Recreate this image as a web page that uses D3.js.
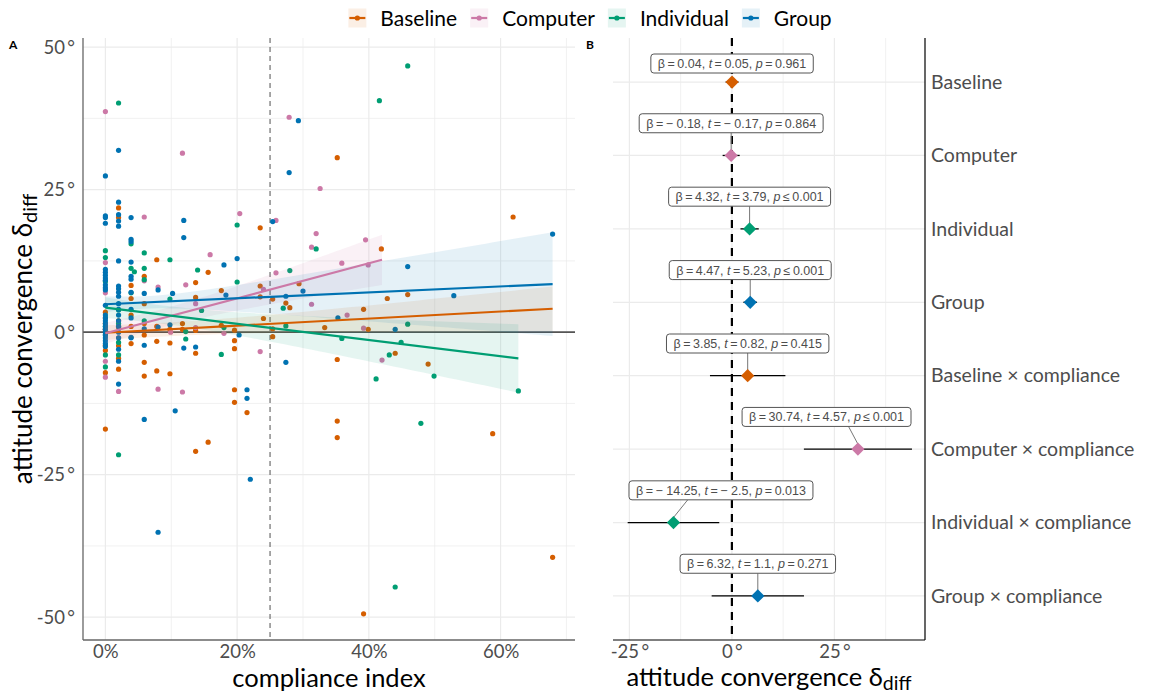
<!DOCTYPE html>
<html>
<head>
<meta charset="utf-8">
<script src="https://cdn.jsdelivr.net/npm/d3@7"></script>
<style>
  body { margin: 0; background: #fff; }
  svg { display: block; }
</style>
</head>
<body>
<svg id="chart" width="1152" height="693"></svg>
<script>
// ---- conditions ----
const conditions = ["Baseline", "Computer", "Individual", "Group"];
const conditionColors = ["#D55E00", "#CC79A7", "#009E73", "#0072B2"];

// ---- panel A: participants, [compliance index in %, attitude convergence in degrees] ----
const baselinePoints = [
  [0, -17.0], [0, -2.3], [0, -3.2], [0, -7.1], [0, 1.5], [0, 2.5], [0, 0.5], [0, 3.5],
  [2, 21.8], [2, 20.1], [2, -6.5], [2, -2.4], [2, 0.8], [2, 2.0], [2, -4.6],
  [3.9, 8.2], [3.9, 5.9], [3.9, -2.0], [3.9, 1.0], [3.9, 3.0],
  [5.9, 9.8], [5.9, 5.0], [5.9, -5.3], [5.9, -7.7], [5.9, 1.5], [5.9, -0.5],
  [7.8, 12.7], [7.8, -6.8], [7.8, -1.6], [7.8, 1.0],
  [9.8, -7.3], [9.8, -1.9], [9.8, 0.5],
  [11.7, 1.5], [11.7, 0.5],
  [13.7, 8.7], [13.7, 6.1], [13.7, -3.7], [13.7, -20.9], [13.7, 0.3],
  [15.6, 10.5], [15.6, -19.3], [17.6, 7.3], [17.6, 1.2],
  [19.6, 0.35], [19.6, -1.5], [19.6, -2.9], [19.6, -10.1], [19.6, -12.3], [21.5, -14.1],
  [23.5, 18.3], [23.5, 8.1], [23.5, 6.2], [24.0, 2.4],
  [25.4, 5.8], [25.4, -0.8], [25.4, 0.6], [27.4, 5.1], [28.0, 4.3], [29.4, 8.5],
  [33.3, 0.8], [35.2, 30.6], [35.2, -4.8], [35.2, -15.6], [35.2, -18.5],
  [39.2, 4.0], [39.2, -49.4], [39.9, 0.5], [41.9, 14.6], [42.8, 5.9], [44.0, -3.7],
  [45.9, 6.6], [49.0, -5.6], [58.8, -17.8], [61.9, 20.2], [67.9, -39.5]
];
const computerPoints = [
  [0, 38.7], [0, 12.2], [0, 6.9], [0, -5.1], [0, -7.9], [0, 0.5],
  [2, -10.4], [2, 1.0], [2, -1.0],
  [5.9, 20.2], [5.9, 9.0], [8.0, 7.9], [8.0, -10.0], [9.9, 0.0],
  [11.7, 31.4], [11.7, -10.5], [12.2, 8.3], [13.7, 5.0], [13.7, 0.8],
  [15.9, 13.6], [18.0, -0.2], [20.4, 20.8], [23.5, -3.4], [24.0, 7.5],
  [25.9, 19.6], [25.9, 10.4], [27.9, 37.7], [31.3, 4.9], [31.3, 14.9],
  [32.0, 17.3], [32.6, 25.2], [35.9, 12.1], [36.7, 3.0], [39.2, 0.7],
  [39.5, 16.2], [39.9, 11.8], [42.0, -4.9]
];
const individualPoints = [
  [0, 14.3], [0, 13.1], [0, 8.9], [0, -4.0], [0, -6.1], [0, 1.0], [0, -0.5],
  [2, 40.2], [2, 3.9], [2, -1.8], [2, -4.0], [2, -21.5], [2, 1.5],
  [3.9, 15.5], [3.9, 11.2], [3.9, 6.9], [4.4, 10.6],
  [5.9, 13.9], [5.9, 11.2], [5.9, 9.2], [5.9, 2.0],
  [9.8, 12.7], [9.8, 5.8], [12.2, -1.2], [12.2, 0.1], [14.0, 10.9], [14.6, 3.8],
  [17.6, -3.9], [18.0, 0.8], [20.0, 18.8], [20.0, 8.8],
  [27.0, 4.2], [27.4, 1.1], [28.0, 10.8], [32.0, 14.6], [35.9, -1.1],
  [41.1, -8.2], [41.6, 40.6], [43.1, -4.0], [44.0, -44.7], [44.9, -1.8],
  [45.9, 46.7], [45.9, 1.4], [47.9, -16.0], [49.9, -7.7], [62.7, -10.3]
];
const groupPoints = [
  [0, 27.4], [0, 20.4], [0, 20.1], [0, 19.1], [0, 11.0], [0, 10.5], [0, 10.0], [0, 9.5],
  [0, 9.1], [0, 8.3], [0, 7.8], [0, 7.4], [0, 4.7], [0, 3.0], [0, 2.5], [0, 2.0],
  [0, 1.5], [0, 1.0], [0, 0.5], [0, 0.0], [0, -0.5], [0, -1.0], [0, -1.5], [0, -2.0], [0, -2.5],
  [2, 31.9], [2, 22.8], [2, 20.6], [2, 19.5], [2, 18.6], [2, 12.5], [2, 8.1], [2, 7.6],
  [2, 7.0], [2, 6.3], [2, 5.0], [2, 4.0], [2, 3.0], [2, 2.0], [2, 1.0], [2, 0.0],
  [2, -1.0], [2, -3.0], [2, -5.1], [2, -9.1],
  [3.9, 20.1], [3.9, 16.3], [3.9, 15.9], [3.9, 12.3], [3.9, 9.8], [3.9, 9.3],
  [3.9, 7.0], [3.9, 4.0], [3.9, 2.5], [3.9, -0.9], [3.9, -1.0],
  [5.9, 6.8], [5.9, 0.6], [5.9, -2.3], [5.9, -15.3],
  [8.0, 7.4], [8.0, 0.9], [8.0, -35.1], [9.8, 1.3], [10.2, 6.8], [10.6, -13.8],
  [11.9, 19.6], [11.9, 16.6], [11.9, -2.8], [13.7, -2.6],
  [18.0, 11.8], [18.3, 6.5], [20.0, 12.9], [20.3, -0.5], [21.5, -10.1], [21.5, -11.6],
  [22.0, -25.8], [25.4, 19.4], [27.4, 6.3], [27.4, -5.3], [27.9, 28.0], [29.3, 37.1],
  [30.0, 7.2], [35.3, 2.5], [44.0, 0.5], [45.9, 11.5], [52.9, 6.4], [67.9, 17.2]
];
const pointSets = [baselinePoints, computerPoints, individualPoints, groupPoints];

// per-condition linear fits (slope per 100 % compliance) and their confidence bands
const fitIntercept = [-0.1, -0.2, 4.3, 4.9];
const fitSlope = [6.2, 30.7, -14.2, 5.2];
const fitMaxX = [67.9, 42.0, 62.7, 67.9];
const bandMeanX = [8, 8, 8, 6];
const bandHalfMin = [1.2, 1.6, 1.6, 1.1];
const bandHalfEnd = [3.9, 4.4, 6.0, 9.1];

const xTicksA = [0, 20, 40, 60];
const xMinorA = [10, 30, 50, 70];
const yTicksA = [-50, -25, 0, 25, 50];
const yMinorA = [-37.5, -12.5, 12.5, 37.5];
const complianceCutoff = 25;

// ---- panel B: model coefficients ----
const terms = ["Baseline", "Computer", "Individual", "Group",
  "Baseline × compliance", "Computer × compliance",
  "Individual × compliance", "Group × compliance"];
const termCondition = [0, 1, 2, 3, 0, 1, 2, 3];
const beta = [0.04, -0.18, 4.32, 4.47, 3.85, 30.74, -14.25, 6.32];
const tStat = [0.05, -0.17, 3.79, 5.23, 0.82, 4.57, -2.5, 1.1];
const pValue = [0.961, 0.864, 0.001, 0.001, 0.415, 0.001, 0.013, 0.271];
const ciLow = [-1.53, -2.26, 2.09, 2.80, -5.35, 17.56, -25.42, -4.94];
const ciHigh = [1.61, 1.90, 6.55, 6.14, 13.05, 43.92, -3.08, 17.58];
const xTicksB = [-25, 0, 25];
const xMinorB = [-12.5, 12.5, 37.5];

// ---- layout ----
const FONT = "Lato, 'Open Sans', sans-serif";
const LABEL_FONT = "'Liberation Sans', Arial, sans-serif";
const svg = d3.select("#chart");
const A = { left: 83, right: 575, top: 38, bottom: 640 };
const B = { left: 613, right: 925, top: 38, bottom: 640 };

const xA = d3.scaleLinear().domain([-3.4, 71.3]).range([A.left, A.right]);
const yA = d3.scaleLinear().domain([-54.0, 51.6]).range([A.bottom, A.top]);
const xB = d3.scaleLinear().domain([-29.0, 47.1]).range([B.left, B.right]);
const yB = d3.scalePoint().domain(terms).range([B.top, B.bottom]).padding(0.6);

const grid = "#ebebeb";

// ================= Panel A =================
const gA = svg.append("g");

// grid
gA.selectAll(".gxm").data(xMinorA).join("line")
  .attr("x1", d => xA(d)).attr("x2", d => xA(d)).attr("y1", A.top).attr("y2", A.bottom)
  .attr("stroke", grid).attr("stroke-width", 0.7);
gA.selectAll(".gym").data(yMinorA).join("line")
  .attr("x1", A.left).attr("x2", A.right).attr("y1", d => yA(d)).attr("y2", d => yA(d))
  .attr("stroke", grid).attr("stroke-width", 0.7);
gA.selectAll(".gx").data(xTicksA).join("line")
  .attr("x1", d => xA(d)).attr("x2", d => xA(d)).attr("y1", A.top).attr("y2", A.bottom)
  .attr("stroke", grid).attr("stroke-width", 1.2);
gA.selectAll(".gy").data(yTicksA).join("line")
  .attr("x1", A.left).attr("x2", A.right).attr("y1", d => yA(d)).attr("y2", d => yA(d))
  .attr("stroke", grid).attr("stroke-width", 1.2);

// zero reference and compliance cutoff
gA.append("line").attr("x1", A.left).attr("x2", A.right)
  .attr("y1", yA(0)).attr("y2", yA(0)).attr("stroke", "#555").attr("stroke-width", 1.8);
gA.append("line").attr("x1", xA(complianceCutoff)).attr("x2", xA(complianceCutoff))
  .attr("y1", A.top).attr("y2", A.bottom)
  .attr("stroke", "#7a7a7a").attr("stroke-width", 1.3).attr("stroke-dasharray", "5,4");

// points
pointSets.forEach((pts, i) => {
  gA.append("g").selectAll("circle").data(pts).join("circle")
    .attr("cx", d => xA(d[0])).attr("cy", d => yA(d[1])).attr("r", 2.6)
    .attr("fill", conditionColors[i]);
});

// confidence bands and fit lines
const fitAt = (i, x) => fitIntercept[i] + fitSlope[i] * x / 100;
const halfWidth = (i, x) => {
  const k = Math.sqrt(bandHalfEnd[i] ** 2 - bandHalfMin[i] ** 2) / (fitMaxX[i] - bandMeanX[i]);
  return Math.sqrt(bandHalfMin[i] ** 2 + (k * (x - bandMeanX[i])) ** 2);
};
conditions.forEach((c, i) => {
  const xs = d3.range(0, 61).map(j => fitMaxX[i] * j / 60);
  gA.append("path").datum(xs)
    .attr("d", d3.area().x(x => xA(x))
      .y0(x => yA(fitAt(i, x) - halfWidth(i, x)))
      .y1(x => yA(fitAt(i, x) + halfWidth(i, x))))
    .attr("fill", conditionColors[i]).attr("fill-opacity", 0.1);
});
conditions.forEach((c, i) => {
  gA.append("line")
    .attr("x1", xA(0)).attr("y1", yA(fitAt(i, 0)))
    .attr("x2", xA(fitMaxX[i])).attr("y2", yA(fitAt(i, fitMaxX[i])))
    .attr("stroke", conditionColors[i]).attr("stroke-width", 2.2);
});

// axes
const axA_x = gA.append("g").attr("transform", `translate(0,${A.bottom})`)
  .call(d3.axisBottom(xA).tickValues(xTicksA).tickSize(0).tickPadding(5).tickFormat(d => d + "%"));
const axA_y = gA.append("g").attr("transform", `translate(${A.left},0)`)
  .call(d3.axisLeft(yA).tickValues(yTicksA).tickSize(0).tickPadding(8).tickFormat(d => String(d) + "\u2009°"));
[axA_x, axA_y].forEach(ax => {
  ax.select(".domain").remove();
  ax.selectAll("text").attr("font-family", FONT).attr("font-size", 18.5).attr("fill", "#4d4d4d");
});
gA.append("line").attr("x1", A.left).attr("x2", A.left).attr("y1", A.top).attr("y2", A.bottom)
  .attr("stroke", "#666").attr("stroke-width", 1.3);
gA.append("line").attr("x1", A.left).attr("x2", A.right).attr("y1", A.bottom).attr("y2", A.bottom)
  .attr("stroke", "#666").attr("stroke-width", 1.3);

// titles
gA.append("text").attr("x", (A.left + A.right) / 2).attr("y", 687)
  .attr("text-anchor", "middle").attr("font-family", FONT).attr("font-size", 25.5)
  .attr("fill", "#000").text("compliance index");
const yTitle = gA.append("text")
  .attr("transform", `translate(32,${(A.top + A.bottom) / 2}) rotate(-90)`)
  .attr("text-anchor", "middle").attr("font-family", FONT).attr("font-size", 26).attr("fill", "#000");
yTitle.append("tspan").text("attitude convergence δ");
yTitle.append("tspan").attr("dy", 5).attr("font-size", 20).text("diff");

svg.append("text").attr("x", 9).attr("y", 49).attr("font-family", FONT)
  .attr("font-weight", "bold").attr("font-size", 12).text("A");

// ================= Panel B =================
const gB = svg.append("g");
gB.selectAll(".gbxm").data(xMinorB).join("line")
  .attr("x1", d => xB(d)).attr("x2", d => xB(d)).attr("y1", B.top).attr("y2", B.bottom)
  .attr("stroke", grid).attr("stroke-width", 0.7);
gB.selectAll(".gbx").data(xTicksB).join("line")
  .attr("x1", d => xB(d)).attr("x2", d => xB(d)).attr("y1", B.top).attr("y2", B.bottom)
  .attr("stroke", grid).attr("stroke-width", 1.2);
gB.selectAll(".gby").data(terms).join("line")
  .attr("x1", B.left).attr("x2", B.right).attr("y1", d => yB(d)).attr("y2", d => yB(d))
  .attr("stroke", grid).attr("stroke-width", 1.2);

// null effect
gB.append("line").attr("x1", xB(0)).attr("x2", xB(0)).attr("y1", B.top).attr("y2", B.bottom)
  .attr("stroke", "#000").attr("stroke-width", 2.2).attr("stroke-dasharray", "8,6");

// confidence intervals
gB.selectAll(".ci").data(terms).join("line")
  .attr("x1", (d, i) => xB(ciLow[i])).attr("x2", (d, i) => xB(ciHigh[i]))
  .attr("y1", d => yB(d)).attr("y2", d => yB(d))
  .attr("stroke", "#000").attr("stroke-width", 1.3);

// coefficient labels
const T = "\u2009";
const fmt = v => (v < 0 ? "\u2212 " : "") + String(Math.abs(v));
const labelLayer = gB.append("g");
const segLayer = labelLayer.append("g");
const boxLayer = labelLayer.append("g");
terms.forEach((term, i) => {
  const g = boxLayer.append("g");
  const txt = g.append("text").attr("font-family", LABEL_FONT).attr("font-size", 12.5)
    .attr("fill", "#4d4d4d").attr("text-anchor", "start");
  txt.append("tspan").text(`β${T}=${T}${fmt(beta[i])}, `);
  txt.append("tspan").attr("font-style", "italic").text("t");
  txt.append("tspan").text(`${T}=${T}${fmt(tStat[i])}, `);
  txt.append("tspan").attr("font-style", "italic").text("p");
  txt.append("tspan").text(pValue[i] <= 0.001 ? `${T}≤${T}${pValue[i]}` : `${T}=${T}${pValue[i]}`);
  const tw = txt.node().getComputedTextLength();
  const w = tw + 14, h = 19;
  const px = xB(beta[i]), py = yB(term);
  let cx = px;
  cx = Math.max(B.left + 16 + w / 2, Math.min(B.right - 14 - w / 2, cx));
  let bottom = py - 22.7;
  const top = Math.max(B.top + 16, bottom - h);
  bottom = top + h;
  g.insert("rect", "text").attr("x", cx - w / 2).attr("y", top).attr("width", w).attr("height", h)
    .attr("rx", 3).attr("fill", "#fff").attr("stroke", "#555").attr("stroke-width", 1);
  txt.attr("x", cx - tw / 2).attr("y", top + 14);
  // leader from the box to the estimate
  const sx = cx + 0.7 * (px - cx);
  if (py - bottom > 12) {
    segLayer.append("line").attr("x1", sx).attr("y1", bottom).attr("x2", px).attr("y2", py - 5)
      .attr("stroke", "#777").attr("stroke-width", 1);
  }
});

// estimates
gB.selectAll(".est").data(terms).join("path")
  .attr("d", d3.symbol().type(d3.symbolSquare).size(88))
  .attr("transform", (d, i) => `translate(${xB(beta[i])},${yB(d)}) rotate(45)`)
  .attr("fill", (d, i) => conditionColors[termCondition[i]]);

// axes
const axB_x = gB.append("g").attr("transform", `translate(0,${B.bottom})`)
  .call(d3.axisBottom(xB).tickValues(xTicksB).tickSize(0).tickPadding(5).tickFormat(d => String(d) + "\u2009°"));
const axB_y = gB.append("g").attr("transform", `translate(${B.right},0)`)
  .call(d3.axisRight(yB).tickSize(0).tickPadding(6));
[axB_x, axB_y].forEach(ax => {
  ax.select(".domain").remove();
  ax.selectAll("text").attr("font-family", FONT).attr("fill", "#4d4d4d");
});
axB_x.selectAll("text").attr("font-size", 18.5);
axB_y.selectAll("text").attr("font-size", 19.5);
gB.append("line").attr("x1", B.left).attr("x2", B.right).attr("y1", B.bottom).attr("y2", B.bottom)
  .attr("stroke", "#000").attr("stroke-width", 1.2);
gB.append("line").attr("x1", B.right).attr("x2", B.right).attr("y1", B.top).attr("y2", B.bottom)
  .attr("stroke", "#000").attr("stroke-width", 1.2);

const xTitleB = gB.append("text").attr("x", (B.left + B.right) / 2).attr("y", 686)
  .attr("text-anchor", "middle").attr("font-family", FONT).attr("font-size", 25.5).attr("fill", "#000");
xTitleB.append("tspan").text("attitude convergence δ");
xTitleB.append("tspan").attr("dy", 4).attr("font-size", 19.5).text("diff");

svg.append("text").attr("x", 586).attr("y", 49).attr("font-family", FONT)
  .attr("font-weight", "bold").attr("font-size", 12).text("B");

// ================= Legend =================
const legend = svg.append("g");
let lx = 0;
conditions.forEach((c, i) => {
  const it = legend.append("g");
  it.append("rect").attr("x", 0).attr("y", -9.5).attr("width", 18).attr("height", 19)
    .attr("fill", conditionColors[i]).attr("fill-opacity", 0.1);
  it.append("line").attr("x1", 1).attr("x2", 17).attr("y1", 0).attr("y2", 0)
    .attr("stroke", conditionColors[i]).attr("stroke-width", 2.2);
  it.append("circle").attr("cx", 9).attr("cy", 0).attr("r", 2.6).attr("fill", conditionColors[i]);
  const t = it.append("text").attr("x", 32).attr("y", 7.5).attr("font-family", FONT)
    .attr("font-size", 21).attr("fill", "#000").text(c);
  const w = 32 + t.node().getComputedTextLength();
  it.attr("transform", `translate(${lx},18)`);
  lx += w + 13;
});
const legendWidth = lx - 13;
legend.attr("transform", `translate(${590 - legendWidth / 2},0)`);
</script>
</body>
</html>
